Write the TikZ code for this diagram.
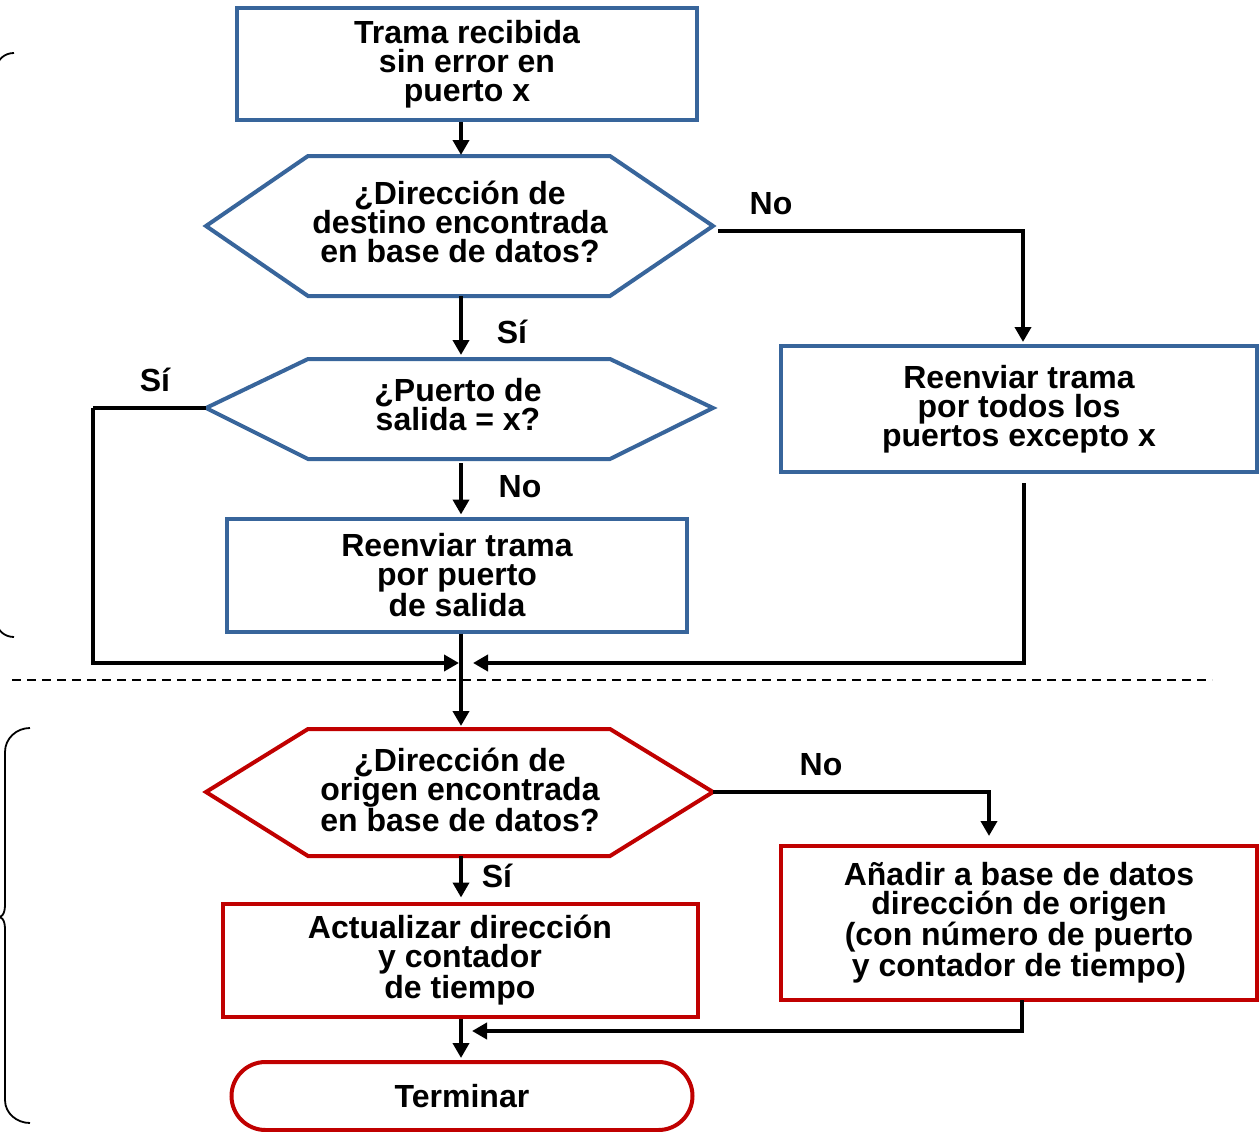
\documentclass[tikz,border=0pt]{standalone}
\usepackage{fontspec}
\setmainfont{Liberation Sans}
\usetikzlibrary{arrows.meta}
\definecolor{flowblue}{RGB}{56,101,155}
\definecolor{flowred}{RGB}{192,0,0}
\begin{document}
\begin{tikzpicture}[x=1pt,y=-1pt,
  txt/.style={font=\fontsize{32}{29}\selectfont\bfseries, align=center, inner sep=0pt},
  bluebox/.style={draw=flowblue, line width=4pt, rectangle, txt},
  redbox/.style={draw=flowred, line width=4pt, rectangle, txt},
  bluehex/.style={draw=flowblue, line width=4pt, line join=miter},
  redhex/.style={draw=flowred, line width=4pt, line join=miter},
  link/.style={line width=4.6pt},
  flow/.style={line width=4.6pt, -{Triangle[length=15pt,width=16pt]}},
  brace/.style={line width=1.8pt},
  sep/.style={line width=2pt, dash pattern=on 9pt off 6pt}]
\useasboundingbox (0,0) rectangle (1259,1132);

% ---------- upper part: forwarding decision ----------
\node[bluebox, minimum width=460pt, minimum height=112pt] (b1) at (467,64)
  {Trama recibida\\sin error en\\puerto x};

\draw[bluehex] (206,226) -- (308,156) -- (610,156) -- (713,226) -- (610,296) -- (308,296) -- cycle;
\node[txt] (h1) at (460,222) {¿Dirección de\\destino encontrada\\en base de datos?};
\coordinate (h1t) at (461,156);
\coordinate (h1b) at (461,296);
\coordinate (h1r) at (713,226);

\draw[bluehex] (206,408) -- (308,359) -- (610,359) -- (713,408) -- (610,459) -- (308,459) -- cycle;
\node[txt] (h2) at (458,405) {¿Puerto de\\salida = x?};
\coordinate (h2t) at (461,359);
\coordinate (h2b) at (461,459);
\coordinate (h2l) at (206,408);

\node[bluebox, minimum width=460pt, minimum height=113pt] (b2) at (457,575)
  {Reenviar trama\\por puerto\\de salida};

\node[bluebox, minimum width=476pt, minimum height=126pt] (r1) at (1019,409)
  {Reenviar trama\\por todos los\\puertos excepto x};

% ---------- lower part: learning of the source address ----------
\draw[redhex] (206,792) -- (308,729) -- (610,729) -- (713,792) -- (610,856) -- (308,856) -- cycle;
\node[txt] (h3) at (460,790) {¿Dirección de\\origen encontrada\\en base de datos?};
\coordinate (h3t) at (461,729);
\coordinate (h3b) at (461,856);
\coordinate (h3r) at (713,792);

\node[redbox, minimum width=475pt, minimum height=113pt] (b3) at (460,960)
  {Actualizar dirección\\y contador\\de tiempo};

\node[redbox, minimum width=476pt, minimum height=154pt] (r2) at (1019,923)
  {Añadir a base de datos\\dirección de origen\\(con número de puerto\\y contador de tiempo)};

\node[redbox, rounded corners=34pt, minimum width=461pt, minimum height=68pt] (t) at (462,1096)
  {Terminar};

% ---------- routing points ----------
\coordinate (spine) at (461,0);
\coordinate (n1) at (1023,231);
\coordinate (s1) at (93,408);
\coordinate (j1) at (461,663);
\coordinate (r1o) at (1024,483);
\coordinate (n2) at (989,792);
\coordinate (j2) at (461,1031);
\coordinate (r2o) at (1022,1000);

% ---------- connectors ----------
\draw[flow] (b1.south -| spine) -- ([yshift=1pt]h1t);
\draw[flow] (h1b) -- ([yshift=4pt]h2t);
\draw[flow] ([xshift=5pt]h1r |- n1) -- (n1) -- ([yshift=2pt]r1.north -| n1);
\draw[link] (h2l) -- (s1);
\draw[flow] (s1) |- ([xshift=-2pt]j1);
\draw[flow] ([yshift=-4pt]h2b) -- ([yshift=2pt]b2.north -| spine);
\draw[flow] (b2.south -| spine) -- ([yshift=3pt]h3t);
\draw[flow] (r1o) |- ([xshift=12pt]j1);
\draw[flow] (h3r) -| ([yshift=8pt]r2.north -| n2);
\draw[flow] (h3b) -- ([yshift=4pt]b3.north -| spine);
\draw[flow] (b3.south -| spine) -- ([yshift=2pt]t.north -| spine);
\draw[flow] (r2o) |- ([xshift=11pt]j2);

% ---------- branch labels ----------
\node[txt] (lno1) at (771,204) {No};
\node[txt] (lsi1) at (512,332) {Sí};
\node[txt] (lsi2) at (155,380) {Sí};
\node[txt] (lno2) at (520,487) {No};
\node[txt] (lno3) at (821,765) {No};
\node[txt] (lsi3) at (497,876) {Sí};

% ---------- separator and braces ----------
\draw[sep] (12,680) -- (1212,680);
\draw[brace] (14,53) to[out=180,in=90] (-3,68) -- (-3,622) to[out=-90,in=180] (14,637);
\draw[brace] (30,728) to[out=180,in=90] (5,752) -- (5,898) to[out=-90,in=0] (-2,917)
  to[out=0,in=90] (5,936) -- (5,1100) to[out=-90,in=180] (30,1123);
\end{tikzpicture}
\end{document}
